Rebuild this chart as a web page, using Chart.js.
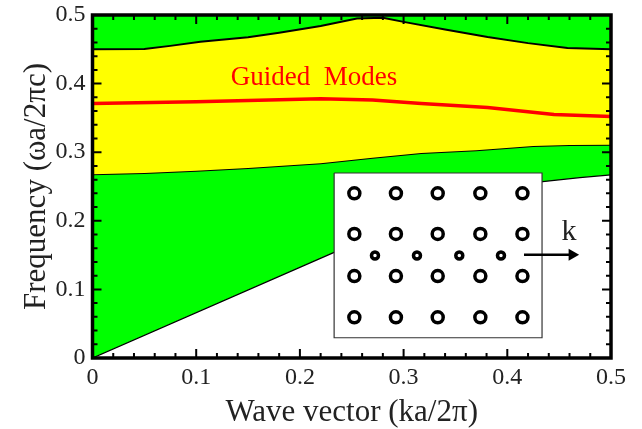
<!DOCTYPE html>
<html>
<head>
<meta charset="utf-8">
<style>
  html, body { margin: 0; padding: 0; background: #fff; }
  canvas { display: block; }
</style>
<script src="https://cdn.jsdelivr.net/npm/chart.js@4"></script>
</head>
<body>
<canvas id="chart" width="642" height="429"></canvas>
<script>
'use strict';

// band edges
const upperX = [0, 0.05, 0.075, 0.104, 0.15, 0.18, 0.22, 0.255, 0.28, 0.3, 0.34, 0.381, 0.42, 0.458, 0.5];
const upperY = [0.45, 0.4505, 0.455, 0.461, 0.4675, 0.474, 0.484, 0.495, 0.496, 0.49, 0.479, 0.468, 0.459, 0.452, 0.45];
const lowerX = [0, 0.05, 0.1, 0.15, 0.22, 0.27, 0.317, 0.37, 0.425, 0.46, 0.5];
const lowerY = [0.268, 0.2695, 0.273, 0.277, 0.284, 0.292, 0.299, 0.303, 0.309, 0.3105, 0.311];
const modeX = [0, 0.1, 0.22, 0.27, 0.317, 0.381, 0.445, 0.5];
const modeY = [0.371, 0.3736, 0.378, 0.376, 0.371, 0.365, 0.355, 0.352];
const lightX = [0, 0.233, 0.385, 0.434, 0.47, 0.5];
const lightY = [0, 0.154, 0.25, 0.257, 0.263, 0.267];

const tickLabels = ['0', '0.1', '0.2', '0.3', '0.4', '0.5'];
const minorTicks = [0.02, 0.04, 0.06, 0.08, 0.12, 0.14, 0.16, 0.18, 0.22, 0.24, 0.26, 0.28, 0.32, 0.34, 0.36, 0.38, 0.42, 0.44, 0.46, 0.48];
const majorTicks = [0.1, 0.2, 0.3, 0.4];

// inset: lattice of holes, drawn in the same axes
const insetX = [0.233, 0.4335];
const insetY = [0.0295, 0.2697];
const holeCols = [0.2525, 0.2926, 0.3329, 0.374, 0.4146];
const holeRows = [0.24, 0.1808, 0.1195, 0.0593];
const defectCols = [0.2724, 0.3129, 0.3537, 0.3939];
const defectRow = [0.1495];
const arrowX = [0.4161, 0.4625];
const arrowY = [0.1505, 0.1505];

const SERIF = "'Liberation Serif', 'Times New Roman', serif";
const INK = '#222';

const zip = (xs, ys) => xs.map((x, i) => ({ x: x, y: ys[i] }));
const grid = (xs, ys) => ys.flatMap((y) => xs.map((x) => ({ x: x, y: y })));

// inward ticks, frame and the two labels sitting inside the plot
const framePlugin = {
  id: 'frame',
  afterDatasetsDraw(chart) {
    const { ctx, chartArea: a, scales } = chart;
    const sx = scales.x;
    const sy = scales.y;
    ctx.save();
    ctx.strokeStyle = '#000';
    ctx.lineWidth = 2;
    ctx.beginPath();
    const tick = (v, len) => {
      const px = sx.getPixelForValue(v);
      const py = sy.getPixelForValue(v);
      ctx.moveTo(px, a.bottom); ctx.lineTo(px, a.bottom - len);
      ctx.moveTo(px, a.top); ctx.lineTo(px, a.top + len);
      ctx.moveTo(a.left, py); ctx.lineTo(a.left + len, py);
      ctx.moveTo(a.right, py); ctx.lineTo(a.right - len, py);
    };
    minorTicks.forEach((v) => tick(v, 5));
    majorTicks.forEach((v) => tick(v, 9));
    ctx.stroke();
    ctx.lineWidth = 3.5;
    ctx.strokeRect(a.left, a.top, a.right - a.left, a.bottom - a.top);

    ctx.textAlign = 'center';
    ctx.textBaseline = 'middle';
    ctx.font = '27px ' + SERIF;
    ctx.fillStyle = '#ff0000';
    ctx.fillText('Guided  Modes', sx.getPixelForValue(0.2136), sy.getPixelForValue(0.408));
    ctx.font = '30px ' + SERIF;
    ctx.fillStyle = INK;
    ctx.fillText('k', sx.getPixelForValue(0.4595), sy.getPixelForValue(0.183));
    ctx.restore();
  }
};

const axis = (title, size) => ({
  type: 'linear',
  min: 0,
  max: 0.5,
  afterFit: (s) => {
    s[size] = size === 'width' ? 92.5 : 71;
    // labels may overhang the plot, keep the plot where it is
    s.paddingTop = s.paddingBottom = s.paddingLeft = s.paddingRight = 0;
  },
  grid: { display: false },
  border: { display: false },
  ticks: {
    stepSize: 0.1,
    autoSkip: false,
    maxRotation: 0,
    padding: size === 'width' ? -1 : -3,
    color: INK,
    font: { family: SERIF, size: 24 },
    callback: (v) => tickLabels[Math.round(v * 10)]
  },
  title: {
    display: true,
    text: title,
    color: INK,
    font: { family: SERIF, size: 31 },
    padding: size === 'width' ? { top: 18, bottom: 0 } : { top: 2, bottom: -2 }
  }
});

new Chart(document.getElementById('chart'), {
  type: 'line',
  data: {
    datasets: [
      { data: zip(arrowX, arrowY), borderColor: '#000', borderWidth: 2.5, pointStyle: 'triangle', rotation: 90, pointRadius: [0, 7], pointBackgroundColor: '#000', pointBorderWidth: 0, order: 1 },
      { data: grid(defectCols, defectRow), showLine: false, pointRadius: 3.5, borderWidth: 3.5, pointBorderColor: '#000', pointBackgroundColor: '#fff', order: 2 },
      { data: grid(holeCols, holeRows), showLine: false, pointRadius: 5.5, borderWidth: 3.5, pointBorderColor: '#000', pointBackgroundColor: '#fff', order: 3 },
      { data: zip([insetX[0], insetX[1], insetX[1], insetX[0], insetX[0]], [insetY[1], insetY[1], insetY[0], insetY[0], insetY[1]]), borderColor: '#333', borderWidth: 1.2, pointRadius: 0, order: 4 },
      { data: zip(insetX, [insetY[1], insetY[1]]), borderWidth: 0, pointRadius: 0, fill: { value: insetY[0] }, backgroundColor: '#fff', order: 5 },
      { data: zip(modeX, modeY), borderColor: '#ff0000', borderWidth: 3.5, pointRadius: 0, order: 6 },
      { data: zip(upperX, upperY), borderColor: '#000', borderWidth: 2, pointRadius: 0, fill: { target: 7 }, backgroundColor: '#ffff00', order: 7 },
      { data: zip(lowerX, lowerY), borderColor: '#000', borderWidth: 2, pointRadius: 0, order: 8 },
      { data: zip(lightX, lightY), borderColor: '#000', borderWidth: 1.3, pointRadius: 0, fill: { value: 0.5 }, backgroundColor: '#00ff00', order: 9 }
    ]
  },
  options: {
    responsive: false,
    animation: false,
    layout: { padding: { left: 0, right: 31, top: 15, bottom: 0 } },
    plugins: { legend: { display: false }, tooltip: { enabled: false } },
    scales: {
      x: axis('Wave vector (ka/2π)', 'height'),
      y: axis('Frequency (ωa/2πc)', 'width')
    }
  },
  plugins: [framePlugin]
});
</script>
</body>
</html>
